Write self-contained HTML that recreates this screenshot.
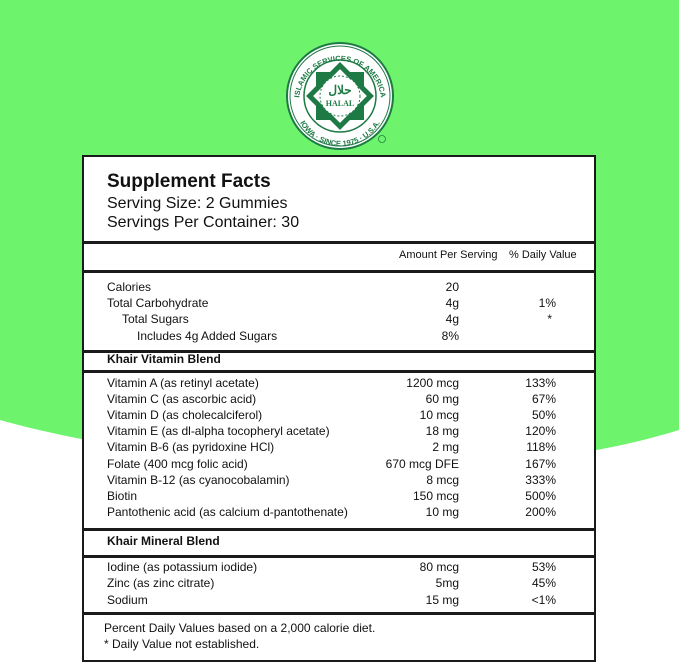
<!DOCTYPE html>
<html><head><meta charset="utf-8"><style>
body{margin:0;width:679px;height:664px;overflow:hidden;background:#6df46c;font-family:"Liberation Sans",sans-serif;color:#111;position:relative}
svg.bg{position:absolute;left:0;top:0}
.panel{position:absolute;left:82px;top:155px;width:510px;height:503px;background:#fff;border:2.5px solid #1a1a1a}
.hl{position:absolute;left:0;right:0;height:2.5px;background:#1a1a1a}
.t{position:absolute;font-size:12px;line-height:14px;white-space:nowrap}
.a{text-align:right;width:120px}
.p{text-align:right;width:60px}
</style></head><body>
<svg class="bg" width="679" height="664"><path d="M0,420 C160,465 470,495 679,430 L679,664 L0,664Z" fill="#fff"/>
<g transform="translate(340,96)" fill="none" stroke="#1e7a45">
<circle r="53" fill="#fff" stroke-width="2"/>
<circle r="50" stroke-width="1"/>
<circle r="36" stroke-width="1.5"/>
<rect x="-24" y="-24" width="48" height="48" fill="#1e7a45" stroke="none"/>
<rect x="-24" y="-24" width="48" height="48" fill="#1e7a45" stroke="none" transform="rotate(45)"/>
<rect x="-19" y="-19" width="38" height="38" fill="#fff" stroke="none" transform="rotate(45)"/>
<circle r="20" fill="#fff" stroke-width="1" stroke-dasharray="2 2"/>
<text x="0" y="-2" text-anchor="middle" font-size="12" fill="#1e7a45" stroke="none" font-weight="bold">حلال</text>
<text x="0" y="10" text-anchor="middle" font-size="8" fill="#1e7a45" stroke="none" font-family="Liberation Serif" font-weight="bold">HALAL</text>
<defs><path id="tp" d="M-41,6 A41,41 0 1,1 41,6"/><path id="bp" d="M-46,4 A46,46 0 0,0 46,4"/></defs>
<text font-size="7.5" fill="#1e7a45" stroke="none" font-weight="bold"><textPath href="#tp" startOffset="50%" text-anchor="middle">ISLAMIC SERVICES OF AMERICA</textPath></text>
<text font-size="7.5" fill="#1e7a45" stroke="none" font-weight="bold"><textPath href="#bp" startOffset="50%" text-anchor="middle">IOWA · SINCE 1975 · U.S.A.</textPath></text>
<circle cx="42" cy="43" r="3.5" stroke-width="0.8"/>
</g></svg>
<div class="panel">
<div class="hl" style="top:84px"></div>
<div class="hl" style="top:113px"></div>
<div class="hl" style="top:193px"></div>
<div class="hl" style="top:213px"></div>
<div class="hl" style="top:371px"></div>
<div class="hl" style="top:398px"></div>
<div class="hl" style="top:455px"></div>
</div>
<div class="t" style="left:107px;top:170px;font-size:19px;line-height:24px;font-weight:bold">Supplement Facts</div>
<div class="t" style="left:107px;top:194px;font-size:16px;line-height:19px">Serving Size: 2 Gummies</div>
<div class="t" style="left:107px;top:213px;font-size:16px;line-height:19px">Servings Per Container: 30</div>
<div class="t" style="left:399px;top:248px;font-size:11px">Amount Per Serving</div>
<div class="t" style="left:509px;top:248px;font-size:11px">% Daily Value</div>

<div class="t" style="left:107px;top:280px">Calories</div><div class="t a" style="left:339px;top:280px">20</div>
<div class="t" style="left:107px;top:296px">Total Carbohydrate</div><div class="t a" style="left:339px;top:296px">4g</div><div class="t p" style="left:496px;top:296px">1%</div>
<div class="t" style="left:122px;top:312px">Total Sugars</div><div class="t a" style="left:339px;top:312px">4g</div><div class="t p" style="left:496px;top:312px;padding-right:4px;box-sizing:border-box">*</div>
<div class="t" style="left:137px;top:329px">Includes 4g Added Sugars</div><div class="t a" style="left:339px;top:329px">8%</div>
<div class="t" style="left:107px;top:352px;font-weight:bold">Khair Vitamin Blend</div>

<div class="t" style="left:107px;top:376px">Vitamin A (as retinyl acetate)</div><div class="t a" style="left:339px;top:376px">1200 mcg</div><div class="t p" style="left:496px;top:376px">133%</div>
<div class="t" style="left:107px;top:392px">Vitamin C (as ascorbic acid)</div><div class="t a" style="left:339px;top:392px">60 mg</div><div class="t p" style="left:496px;top:392px">67%</div>
<div class="t" style="left:107px;top:408px">Vitamin D (as cholecalciferol)</div><div class="t a" style="left:339px;top:408px">10 mcg</div><div class="t p" style="left:496px;top:408px">50%</div>
<div class="t" style="left:107px;top:424px">Vitamin E (as dl-alpha tocopheryl acetate)</div><div class="t a" style="left:339px;top:424px">18 mg</div><div class="t p" style="left:496px;top:424px">120%</div>
<div class="t" style="left:107px;top:440px">Vitamin B-6 (as pyridoxine HCl)</div><div class="t a" style="left:339px;top:440px">2 mg</div><div class="t p" style="left:496px;top:440px">118%</div>
<div class="t" style="left:107px;top:457px">Folate (400 mcg folic acid)</div><div class="t a" style="left:339px;top:457px">670 mcg DFE</div><div class="t p" style="left:496px;top:457px">167%</div>
<div class="t" style="left:107px;top:473px">Vitamin B-12 (as cyanocobalamin)</div><div class="t a" style="left:339px;top:473px">8 mcg</div><div class="t p" style="left:496px;top:473px">333%</div>
<div class="t" style="left:107px;top:489px">Biotin</div><div class="t a" style="left:339px;top:489px">150 mcg</div><div class="t p" style="left:496px;top:489px">500%</div>
<div class="t" style="left:107px;top:505px">Pantothenic acid (as calcium d-pantothenate)</div><div class="t a" style="left:339px;top:505px">10 mg</div><div class="t p" style="left:496px;top:505px">200%</div>

<div class="t" style="left:107px;top:534px;font-weight:bold">Khair Mineral Blend</div>
<div class="t" style="left:107px;top:560px">Iodine (as potassium iodide)</div><div class="t a" style="left:339px;top:560px">80 mcg</div><div class="t p" style="left:496px;top:560px">53%</div>
<div class="t" style="left:107px;top:576px">Zinc (as zinc citrate)</div><div class="t a" style="left:339px;top:576px">5mg</div><div class="t p" style="left:496px;top:576px">45%</div>
<div class="t" style="left:107px;top:593px">Sodium</div><div class="t a" style="left:339px;top:593px">15 mg</div><div class="t p" style="left:496px;top:593px">&lt;1%</div>

<div class="t" style="left:104px;top:621px">Percent Daily Values based on a 2,000 calorie diet.</div>
<div class="t" style="left:104px;top:637px">* Daily Value not established.</div>
</body></html>
